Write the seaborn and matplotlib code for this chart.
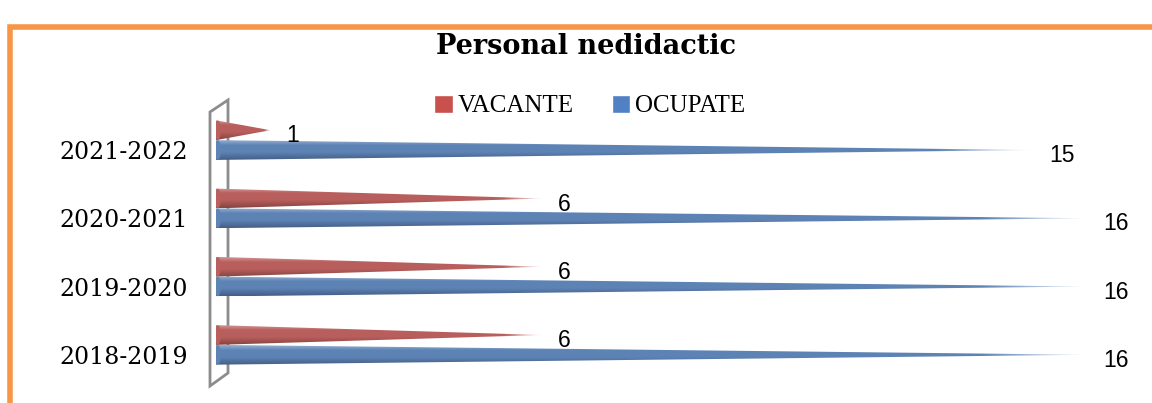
import numpy as np
import pandas as pd
import matplotlib
matplotlib.use("Agg")
import matplotlib.pyplot as plt
import matplotlib.transforms as mtransforms
from matplotlib.patches import Polygon, Rectangle, Ellipse
from matplotlib.colors import to_rgb
import seaborn as sns

# data
years = ["2021-2022", "2020-2021", "2019-2020", "2018-2019"]
vacante = [1, 6, 6, 6]
ocupate = [15, 16, 16, 16]
series = ["VACANTE", "OCUPATE"]
colors = {"VACANTE": "#c8504d", "OCUPATE": "#4f81c4"}

df = pd.DataFrame({
    "an": years * 2,
    "serie": ["VACANTE"] * len(years) + ["OCUPATE"] * len(years),
    "valoare": vacante + ocupate,
})

sns.set_theme(style="white")

fig = plt.figure(figsize=(11.52, 4.03), dpi=100)
ax = fig.add_axes([216 / 1152, 1 - 379 / 403, 872 / 1152, 273 / 403])
ax.patch.set_alpha(0)

sns.barplot(data=df, y="an", x="valoare", hue="serie", order=years,
            hue_order=series, palette=colors, width=0.58, orient="h",
            legend=False, ax=ax)


def shade(base, n=64):
    # vertical shading of a cone: light highlight near top, darker at bottom
    c = np.array(to_rgb(base))
    t = np.linspace(0, 1, n)[:, None]
    light = c + (1 - c) * 0.35
    dark = c * 0.72
    prof = np.where(t < 0.25, light + (c - light) * (t / 0.25),
                    np.where(t < 0.6, c, c + (dark - c) * ((t - 0.6) / 0.4)))
    return prof


# replace the flat bars with cones built from the same geometry
bars = list(ax.patches)
for p in bars:
    x0, y0 = p.get_x(), p.get_y()
    w, h = p.get_width(), p.get_height()
    base = p.get_facecolor()
    p.set_visible(False)
    if w <= 0:
        continue
    yc = y0 + h / 2
    tri = Polygon([(x0, y0), (x0 + w, yc), (x0, y0 + h)], closed=True,
                  facecolor="none", edgecolor="none")
    ax.add_patch(tri)
    prof = shade(base)
    nx = 200
    img = np.zeros((prof.shape[0], nx, 4))
    img[:, :, :3] = prof[:, None, :]
    fade = np.clip((1 - np.linspace(0, 1, nx)) / 0.12, 0, 1)
    img[:, :, 3] = fade[None, :] * 0.9 + 0.1
    im = ax.imshow(img, extent=(x0, x0 + w, y0 + h, y0), aspect="auto",
                   interpolation="bilinear", zorder=2)
    im.set_clip_path(tri)
    ax.add_patch(Ellipse((x0 + 0.03, yc), 0.12, h * 0.98, facecolor=prof[len(prof) // 2],
                         edgecolor="none", zorder=2.1))

ax.set_xlim(0, 16)
ax.set_ylim(3.5, -0.5)
ax.set_xlabel("")
ax.set_ylabel("")
ax.set_xticks([])
sns.despine(ax=ax, left=True, bottom=True)
ax.tick_params(axis="y", length=0, pad=20)
for lab in ax.get_yticklabels():
    lab.set_fontfamily("DejaVu Serif")
    lab.set_fontsize(17)
    lab.set_color("black")
    lab.set_transform(lab.get_transform() +
                      mtransforms.ScaledTranslation(0, -10 / 100, fig.dpi_scale_trans))

# value labels at the tips
for p, v in zip(bars, vacante + ocupate):
    ax.annotate(str(v), (p.get_x() + p.get_width(), p.get_y() + p.get_height() / 2),
                xytext=(11, -4), textcoords="offset points", ha="left", va="center",
                fontsize=16.5, fontfamily="Liberation Sans", color="black")

# back wall of the 3D chart
wall = Polygon([(210 / 1152, 1 - 112 / 403), (228 / 1152, 1 - 100 / 403),
                (228 / 1152, 1 - 373 / 403), (210 / 1152, 1 - 386 / 403)],
               closed=True, transform=fig.transFigure, facecolor="white",
               edgecolor="#8c8c8c", lw=2, zorder=-1)
fig.patches.append(wall)

# orange chart border
fig.patches.append(Rectangle((10 / 1152, -0.1), 1.2, 1.1 - 27 / 403,
                             transform=fig.transFigure, facecolor="none",
                             edgecolor="#f79646", lw=4, zorder=-2))

fig.text(586 / 1152, 1 - 47 / 403, "Personal nedidactic", ha="center", va="center",
         fontsize=19.5, fontweight="bold", fontfamily="DejaVu Serif", color="black")

handles = [Rectangle((0, 0), 1, 1, facecolor=colors[s]) for s in series]
fig.legend(handles, series, loc="center", bbox_to_anchor=(590 / 1152, 1 - 106 / 403),
           ncol=2, frameon=False, handlelength=0.75, handleheight=0.75,
           handletextpad=0.2, columnspacing=1.5, labelcolor="black",
           prop={"family": "Liberation Serif", "size": 18})

fig.savefig("out.png", dpi=100)
